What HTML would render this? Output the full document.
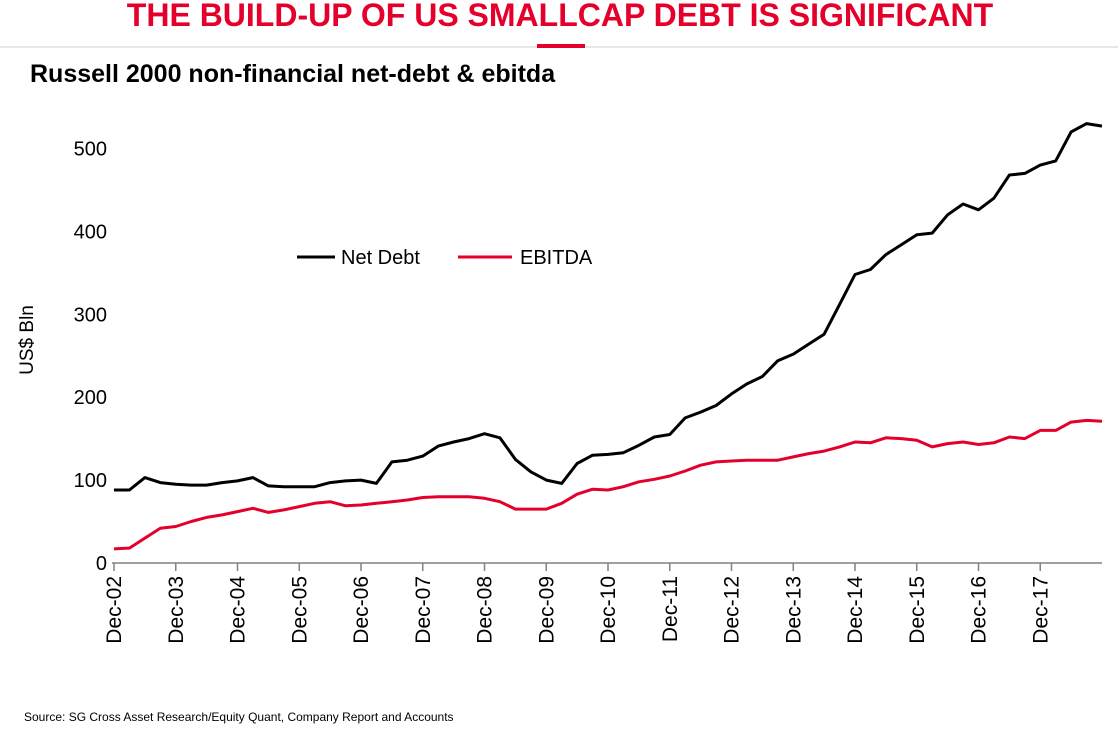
<!DOCTYPE html>
<html><head><meta charset="utf-8"><style>
body{margin:0;background:#fff;width:1118px;height:729px;overflow:hidden;font-family:"Liberation Sans",Arial,sans-serif;}
svg text{font-family:"Liberation Sans",Arial,sans-serif;}
</style></head><body>
<svg id="chart" width="1118" height="729">
<text x="560" y="26" text-anchor="middle" font-size="32" font-weight="bold" fill="#e4002b">THE BUILD-UP OF US SMALLCAP DEBT IS SIGNIFICANT</text>
<line x1="0" y1="47" x2="1118" y2="47" stroke="#d0d0d0" stroke-width="1"/>
<rect x="537" y="44" width="48" height="4" fill="#e4002b"/>
<text x="30" y="82" font-size="25" font-weight="bold" fill="#000">Russell 2000 non-financial net-debt &amp; ebitda</text>
<text transform="translate(33,340) rotate(-90)" text-anchor="middle" font-size="19" fill="#000">US$ Bln</text>
<g id="yaxis"></g>
<g id="xaxis"></g>
<g id="series"></g>
<g>
<g><line x1="297" y1="257" x2="335" y2="257" stroke="#000" stroke-width="3"/><text x="341" y="264" font-size="20">Net Debt</text></g>
<g><line x1="458" y1="257" x2="512" y2="257" stroke="#e4002b" stroke-width="3"/><text x="520" y="264" font-size="20">EBITDA</text></g>
</g>
<text x="24" y="721" font-size="12" fill="#000">Source: SG Cross Asset Research/Equity Quant, Company Report and Accounts</text>
</svg>
<script>
const xLabels=["Dec-02","Dec-03","Dec-04","Dec-05","Dec-06","Dec-07","Dec-08","Dec-09","Dec-10","Dec-11","Dec-12","Dec-13","Dec-14","Dec-15","Dec-16","Dec-17"];
const yTicks=[0,100,200,300,400,500];
const netDebt=[88,88,103,97,95,94,94,97,99,103,93,92,92,92,97,99,100,96,122,124,129,141,146,150,156,151,125,110,100,96,120,130,
131,133,142,152,155,175,182,190,204,216,225,244,252,264,276,312,348,354,372,384,396,398,420,433,426,440,468,470,480,485,520,530,527];
const ebitda=[17,18,30,42,44,50,55,58,62,66,61,64,68,72,74,69,70,72,74,76,79,80,80,80,78,74,65,65,65,72,83,89,
88,92,98,101,105,111,118,122,123,124,124,124,128,132,135,140,146,145,151,150,148,140,144,146,143,145,152,150,160,160,170,172,171];
const NS="http://www.w3.org/2000/svg";
const x0=114,x1=1102,yBase=563,yPer=0.829;
const n=netDebt.length;
function xs(i){return x0+i*(x1-x0)/(n-1);}
function ys(v){return yBase-v*yPer;}
function mk(t,a,p){const e=document.createElementNS(NS,t);for(const k in a)e.setAttribute(k,a[k]);p.appendChild(e);return e;}
const ya=document.getElementById('yaxis');
yTicks.forEach(v=>{const t=mk('text',{x:107,y:ys(v)+7,'text-anchor':'end','font-size':20},ya);t.textContent=v;

});
const xa=document.getElementById('xaxis');
const ax=mk('line',{x1:x0-2,y1:yBase,x2:x1,y2:yBase,stroke:'#808080','stroke-width':1.5},xa);


xLabels.forEach((l,k)=>{const x=xs(k*4);
const tk=mk('line',{x1:x,y1:yBase,x2:x,y2:yBase+8,stroke:'#808080','stroke-width':1.5},xa);


const t=mk('text',{transform:`translate(${x+7},${yBase+13}) rotate(-90)`,'text-anchor':'end','font-size':21},xa);t.textContent=l;

});
const sg=document.getElementById('series');
function line(arr,col,name){const d=arr.map((v,i)=>(i?'L':'M')+xs(i).toFixed(1)+','+ys(v).toFixed(1)).join('');
const p=mk('path',{d:d,fill:'none',stroke:col,'stroke-width':3,'stroke-linejoin':'round'},sg);

}
line(ebitda,'#e4002b','ebitda-line');
line(netDebt,'#000','net-debt-line');
</script>
</body></html>
